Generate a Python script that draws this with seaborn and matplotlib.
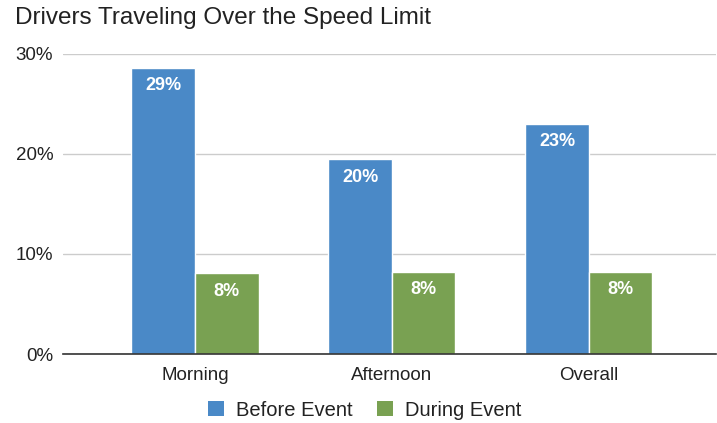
import matplotlib
matplotlib.use("Agg")
import matplotlib.pyplot as plt
import seaborn as sns
import pandas as pd
from matplotlib.patches import Patch

categories = ["Morning", "Afternoon", "Overall"]
before_event = [28.6, 19.5, 23.0]
during_event = [8.1, 8.2, 8.2]
series_names = ["Before Event", "During Event"]
colors = ["#4a89c7", "#79a152"]
y_ticks = [0, 10, 20, 30]
y_tick_labels = ["0%", "10%", "20%", "30%"]

df = pd.DataFrame({
    "category": categories * 2,
    "value": before_event + during_event,
    "series": [series_names[0]] * 3 + [series_names[1]] * 3,
})

sns.set_theme(style="white")
plt.rcParams["font.family"] = ["Liberation Sans", "DejaVu Sans"]

fig = plt.figure(figsize=(7.17, 4.23), dpi=100)
ax = fig.add_axes([63 / 717, 1 - 354 / 423, (716 - 63) / 717, 300 / 423])

sns.barplot(data=df, x="category", y="value", hue="series", order=categories,
            hue_order=series_names, palette=colors, width=0.645, ax=ax,
            edgecolor="white", linewidth=1.0, legend=False, saturation=1)

ax.set_xlim(-0.67, 2.645)
ax.set_ylim(0, 30)
ax.set_yticks(y_ticks)
ax.set_yticklabels(y_tick_labels)
ax.set_xlabel("")
ax.set_ylabel("")
ax.grid(axis="y", color="#cccccc", linewidth=1)
ax.set_axisbelow(True)
for s in ["left", "right", "top"]:
    ax.spines[s].set_visible(False)
ax.spines["bottom"].set_color("#333333")
ax.spines["bottom"].set_linewidth(1.2)
ax.spines["bottom"].set_zorder(5)
ax.tick_params(axis="y", length=0, pad=7, labelsize=13.5, labelcolor="#222222")
ax.tick_params(axis="x", length=0, pad=9, labelsize=13.5, labelcolor="#222222")

for container in ax.containers:
    for bar in container:
        h = bar.get_height()
        ax.annotate(f"{int(h + 0.5):d}%", (bar.get_x() + bar.get_width() / 2, h),
                    xytext=(0, -18), textcoords="offset pixels",
                    ha="center", va="center", color="white",
                    fontsize=13, fontweight="bold")

fig.text(15 / 717, 1 - 18 / 423, "Drivers Traveling Over the Speed Limit",
         ha="left", va="center", fontsize=17.5, color="#222222")

handles = [Patch(facecolor=c, edgecolor="none") for c in colors]
fig.legend(handles, series_names, loc="center", bbox_to_anchor=(365 / 717, 1 - 410 / 423),
           ncol=2, frameon=False, fontsize=14.5, handlelength=0.8, handleheight=0.8,
           handletextpad=0.6, columnspacing=1.2, labelcolor="#222222")

fig.savefig("out.png", dpi=100)
